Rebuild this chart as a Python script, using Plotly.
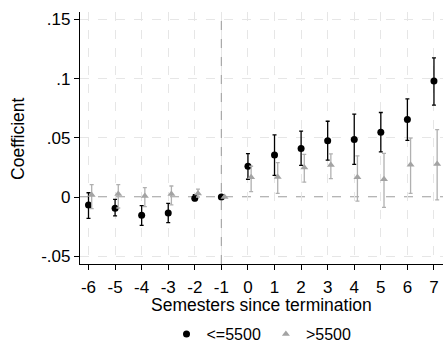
import plotly.graph_objects as go

periods = [-6, -5, -4, -3, -2, -1, 0, 1, 2, 3, 4, 5, 6, 7]
period_labels = ["-6", "-5", "-4", "-3", "-2", "-1", "0", "1", "2", "3", "4", "5", "6", "7"]

low_coef = [-0.0067, -0.0096, -0.0155, -0.0135, -0.001, 0.0, 0.026, 0.0354, 0.041, 0.0475, 0.0486, 0.0548, 0.0655, 0.098]
low_hi = [0.0036, -0.002, -0.0073, -0.0053, 0.002, 0.0, 0.0367, 0.0525, 0.0556, 0.064, 0.070, 0.0714, 0.0829, 0.1175]
low_lo = [-0.018, -0.016, -0.024, -0.0217, -0.003, 0.0, 0.015, 0.0183, 0.0267, 0.0312, 0.0276, 0.0382, 0.0478, 0.0776]

high_coef = [0.0017, 0.0025, 0.0008, 0.0025, 0.003, 0.0, 0.0166, 0.017, 0.025, 0.027, 0.0166, 0.0149, 0.0272, 0.0278]
high_hi = [0.0104, 0.0104, 0.0079, 0.0093, 0.0067, 0.0, 0.026, 0.029, 0.036, 0.0365, 0.0348, 0.0368, 0.0497, 0.057]
high_lo = [-0.0099, -0.0093, -0.0082, -0.0067, 0.0, 0.0, 0.0045, 0.003, 0.0126, 0.0155, -0.0034, -0.0087, 0.003, -0.0025]

y_ticks = [-0.05, 0, 0.05, 0.1, 0.15]
y_tick_text = ["-.05", "0", ".05", ".1", ".15"]

x_title = "Semesters since termination"
y_title = "Coefficient"

FONT = "Liberation Sans, Arial, sans-serif"
offset = 0.12

fig = go.Figure()
fig.add_trace(go.Scatter(
    x=periods, y=low_coef, mode="markers", name="<=5500",
    marker=dict(symbol="circle", size=7, color="black"),
    error_y=dict(type="data", symmetric=False,
                 array=[h - c for h, c in zip(low_hi, low_coef)],
                 arrayminus=[c - l for l, c in zip(low_lo, low_coef)],
                 color="black", thickness=1.3, width=2),
))
fig.add_trace(go.Scatter(
    x=[p + offset for p in periods], y=high_coef, mode="markers", name=">5500",
    marker=dict(symbol="triangle-up", size=7, color="#a3a3a3"),
    error_y=dict(type="data", symmetric=False,
                 array=[h - c for h, c in zip(high_hi, high_coef)],
                 arrayminus=[c - l for l, c in zip(high_lo, high_coef)],
                 color="#b0b0b0", thickness=1.3, width=2),
))

fig.add_shape(type="line", xref="paper", x0=0, x1=1, yref="y", y0=0, y1=0,
              line=dict(color="#b5b5b5", width=1.8, dash="dash"), layer="below")
fig.add_shape(type="line", xref="x", x0=-1, x1=-1, yref="paper", y0=0, y1=1,
              line=dict(color="#a8a8a8", width=1.2, dash="dash"), layer="below")

fig.add_annotation(text=x_title, xref="paper", yref="paper", x=0.5, y=-0.162,
                   xanchor="center", yanchor="middle", showarrow=False,
                   font=dict(size=17.5), borderpad=0)
fig.add_annotation(text=y_title, xref="paper", yref="paper", x=-0.171, y=0.5,
                   xanchor="center", yanchor="middle", showarrow=False,
                   textangle=-90, font=dict(size=17.5), borderpad=0)

fig.update_layout(
    width=443, height=343,
    margin=dict(l=80, r=0, t=12, b=79, autoexpand=False),
    paper_bgcolor="white", plot_bgcolor="white",
    font=dict(family=FONT, size=17, color="black"),
    showlegend=True,
    legend=dict(orientation="h", x=0.5, xanchor="center", y=-0.278, yanchor="middle",
                font=dict(size=16), itemwidth=30, tracegroupgap=0),
)
fig.update_xaxes(
    range=[-6.32, 7.34], tickmode="array", tickvals=periods, ticktext=period_labels,
    showgrid=True, gridcolor="#e6e6e6", griddash="dash", gridwidth=1,
    showline=True, linecolor="black", linewidth=1.3,
    ticks="outside", ticklen=5, tickcolor="black", ticklabelstandoff=2,
    zeroline=False,
)
fig.update_yaxes(
    range=[-0.0566, 0.1563], tickmode="array", tickvals=y_ticks, ticktext=y_tick_text,
    showgrid=True, gridcolor="#e6e6e6", griddash="dash", gridwidth=1,
    showline=True, linecolor="black", linewidth=1.3,
    ticks="outside", ticklen=5, tickcolor="black",
    zeroline=False,
)

fig.write_html("out.html")
